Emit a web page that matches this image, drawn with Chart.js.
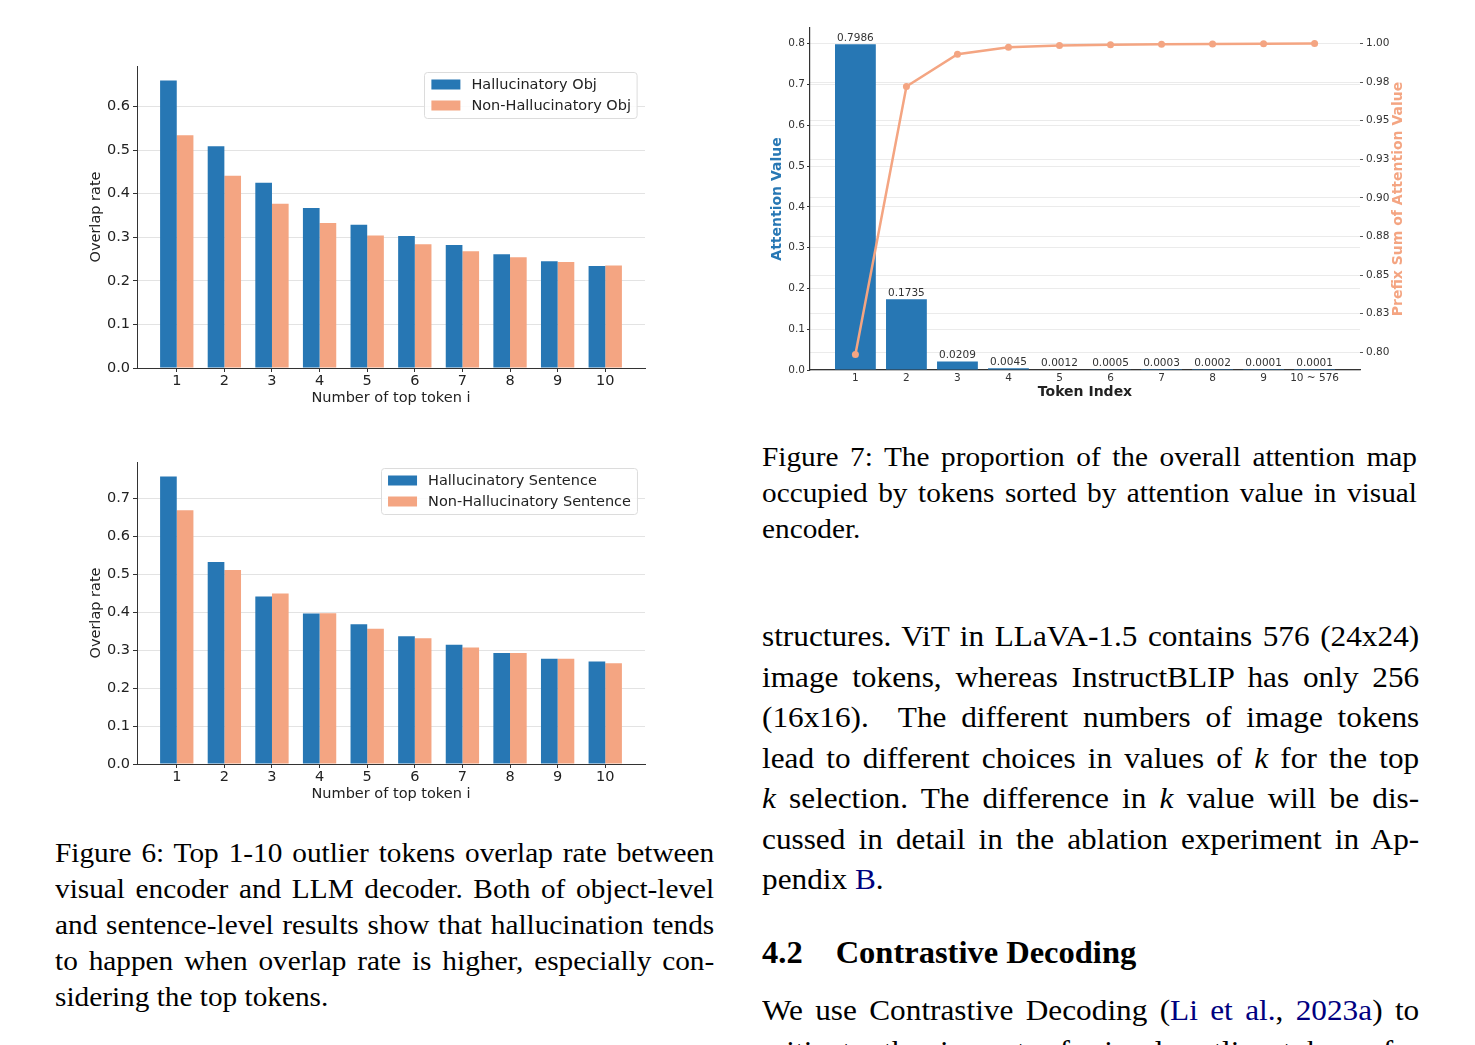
<!DOCTYPE html>
<html>
<head>
<meta charset="utf-8">
<script src="https://cdn.jsdelivr.net/npm/chart.js@4.4.1/dist/chart.umd.min.js"></script>
<style>
  html, body { margin: 0; padding: 0; background: #fff; }
  body { width: 1475px; height: 1045px; overflow: hidden; position: relative; font-family: "Liberation Serif", "Times New Roman", serif; color: #000; }
  canvas { position: absolute; }
  .para { position: absolute; transform: scaleX(1.065); transform-origin: 0 0; }
  .para div { text-align: justify; text-align-last: justify; white-space: normal; }
  .para div.last { text-align-last: left; }
  .cap { font-size: 27.5px; line-height: 36px; }
  .body { font-size: 29.5px; line-height: 40.5px; transform: scaleX(1.06); }
  .ref { color: #000080; }
  h2 { position: absolute; margin: 0; font-size: 32.5px; line-height: 40px; font-weight: bold; }
</style>
</head>
<body>
<canvas id="objChart" width="562" height="357" style="left:88px; top:50px;"></canvas>
<canvas id="sentChart" width="562" height="357" style="left:88px; top:446px;"></canvas>
<canvas id="attnChart" width="638" height="391" style="left:769px; top:10px;"></canvas>

<div class="para cap" style="left:55px; top:835px; width:619px;">
  <div>Figure 6: Top 1-10 outlier tokens overlap rate between</div>
  <div>visual encoder and LLM decoder. Both of object-level</div>
  <div>and sentence-level results show that hallucination tends</div>
  <div>to happen when overlap rate is higher, especially con-</div>
  <div class="last">sidering the top tokens.</div>
</div>

<div class="para cap" style="left:762px; top:439px; width:615px;">
  <div>Figure 7: The proportion of the overall attention map</div>
  <div>occupied by tokens sorted by attention value in visual</div>
  <div class="last">encoder.</div>
</div>

<div class="para body" style="left:762px; top:616px; width:620px;">
  <div>structures. ViT in LLaVA-1.5 contains 576 (24x24)</div>
  <div>image tokens, whereas InstructBLIP has only 256</div>
  <div>(16x16).&nbsp; The different numbers of image tokens</div>
  <div>lead to different choices in values of <i>k</i> for the top</div>
  <div><i>k</i> selection. The difference in <i>k</i> value will be dis-</div>
  <div>cussed in detail in the ablation experiment in Ap-</div>
  <div class="last">pendix <span class="ref">B</span>.</div>
</div>

<h2 style="left:762px; top:932px;"><span style="margin-right:33px">4.2</span>Contrastive Decoding</h2>

<div class="para body" style="left:762px; top:990px; width:620px;">
  <div>We use Contrastive Decoding (<span class="ref">Li et al.</span>, <span class="ref">2023a</span>) to</div>
  <div>mitigate the impact of visual outlier tokens for</div>
</div>

<script>
// Figure 6 data
const tokenRanks = ['1', '2', '3', '4', '5', '6', '7', '8', '9', '10'];
const hallucinatoryObj = [0.660, 0.509, 0.425, 0.367, 0.329, 0.303, 0.282, 0.261, 0.245, 0.234];
const nonHallucinatoryObj = [0.534, 0.441, 0.377, 0.333, 0.304, 0.284, 0.268, 0.254, 0.243, 0.235];
const hallucinatorySent = [0.757, 0.532, 0.441, 0.396, 0.368, 0.336, 0.314, 0.292, 0.277, 0.270];
const nonHallucinatorySent = [0.668, 0.511, 0.449, 0.397, 0.356, 0.331, 0.307, 0.292, 0.277, 0.265];
const objTicks = [0, 0.1, 0.2, 0.3, 0.4, 0.5, 0.6];
const sentTicks = [0, 0.1, 0.2, 0.3, 0.4, 0.5, 0.6, 0.7];

// Figure 7 data
const tokenIndex = ['1', '2', '3', '4', '5', '6', '7', '8', '9', '10 ~ 576'];
const attentionValue = [0.7986, 0.1735, 0.0209, 0.0045, 0.0012, 0.0005, 0.0003, 0.0002, 0.0001, 0.0001];
const prefixSum = [0.7986, 0.9721, 0.9930, 0.9975, 0.9987, 0.9992, 0.9995, 0.9997, 0.9998, 0.9999];
const attentionTicks = [0, 0.1, 0.2, 0.3, 0.4, 0.5, 0.6, 0.7, 0.8];
const prefixTicks = [0.8, 0.825, 0.85, 0.875, 0.9, 0.925, 0.95, 0.975, 1.0];
const prefixTickLabels = ['0.80', '0.83', '0.85', '0.88', '0.90', '0.93', '0.95', '0.98', '1.00'];

const BLUE = '#2777b4';
const SALMON = '#f4a582';

Chart.defaults.font.family = '"DejaVu Sans", sans-serif';
Chart.defaults.animation = false;

const toPoints = arr => arr.map((v, i) => ({ x: i, y: v }));

// legend box drawn inside the plot, upper right
const boxLegend = {
    id: 'boxLegend',
    afterDraw(chart) {
        const { ctx, chartArea } = chart;
        const sets = chart.data.datasets;
        ctx.save();
        ctx.font = '14.5px "DejaVu Sans"';
        const textW = Math.max(...sets.map(d => ctx.measureText(d.label).width));
        const w = 7 + 29 + 11 + textW + 6;
        const h = 46;
        const x = chartArea.right - 8 - w;
        const y = chartArea.top + 6;
        ctx.fillStyle = 'rgba(255,255,255,0.85)';
        ctx.strokeStyle = '#dcdcdc';
        ctx.lineWidth = 1;
        ctx.beginPath();
        ctx.roundRect(Math.round(x) + 0.5, Math.round(y) + 0.5, w, h, 3);
        ctx.fill();
        ctx.stroke();
        sets.forEach((d, i) => {
            const cy = y + 12.5 + i * 21;
            ctx.fillStyle = d.backgroundColor;
            ctx.fillRect(x + 7, cy - 5, 29, 10);
            ctx.fillStyle = '#222';
            ctx.textBaseline = 'middle';
            ctx.fillText(d.label, x + 47, cy + 1);
        });
        ctx.restore();
    }
};

function makeOverlapChart(id, hallLabel, hallData, nonLabel, nonData, yTicks, yMax) {
    return new Chart(document.getElementById(id), {
        type: 'bar',
        data: {
            datasets: [
                { label: hallLabel, data: toPoints(hallData), backgroundColor: BLUE },
                { label: nonLabel, data: toPoints(nonData), backgroundColor: SALMON }
            ]
        },
        options: {
            responsive: false,
            maintainAspectRatio: false,
            categoryPercentage: 0.7,
            barPercentage: 1.0,
            layout: { padding: { top: 16, right: 5, left: 0, bottom: 0 } },
            plugins: { legend: { display: false }, tooltip: { enabled: false } },
            scales: {
                x: {
                    type: 'linear',
                    min: -0.835,
                    max: 9.835,
                    offset: false,
                    afterBuildTicks: s => { s.ticks = tokenRanks.map((_, i) => ({ value: i })); },
                    afterFit: s => { s.height = 39; },
                    ticks: { callback: v => tokenRanks[v], color: '#222', font: { size: 14.5 }, padding: 1, maxRotation: 0 },
                    grid: { display: true, drawOnChartArea: false, offset: false, tickLength: 4, tickColor: '#333' },
                    border: { display: true, color: '#333', width: 1 },
                    title: { display: true, text: 'Number of top token i', color: '#222', font: { size: 14.5 }, padding: 0 }
                },
                y: {
                    min: 0,
                    max: yMax,
                    afterBuildTicks: s => { s.ticks = yTicks.map(v => ({ value: v })); },
                    afterFit: s => { s.width = 49; },
                    ticks: { callback: v => v.toFixed(1), color: '#222', font: { size: 14.5 }, padding: 3 },
                    grid: { color: '#e3e3e3', lineWidth: 1, tickLength: 4, tickColor: '#333' },
                    border: { display: true, color: '#333', width: 1 },
                    title: { display: true, text: 'Overlap rate', color: '#222', font: { size: 14.5 }, padding: 0 }
                }
            }
        },
        plugins: [boxLegend]
    });
}

makeOverlapChart('objChart', 'Hallucinatory Obj', hallucinatoryObj,
    'Non-Hallucinatory Obj', nonHallucinatoryObj, objTicks, 0.693);
makeOverlapChart('sentChart', 'Hallucinatory Sentence', hallucinatorySent,
    'Non-Hallucinatory Sentence', nonHallucinatorySent, sentTicks, 0.795);

// value labels over the attention bars
const barValueLabels = {
    id: 'barValueLabels',
    afterDatasetsDraw(chart) {
        const ctx = chart.ctx;
        const meta = chart.getDatasetMeta(0);
        ctx.save();
        ctx.font = '10.5px "DejaVu Sans"';
        ctx.fillStyle = '#333';
        ctx.textAlign = 'center';
        ctx.textBaseline = 'bottom';
        meta.data.forEach((bar, i) => {
            ctx.fillText(attentionValue[i].toFixed(4), bar.x, bar.y - 1);
        });
        ctx.restore();
    }
};

// right axis title, reading bottom to top like the left one
const rightTitle = {
    id: 'rightTitle',
    afterDraw(chart) {
        const ctx = chart.ctx;
        const s = chart.scales.y2;
        const area = chart.chartArea;
        ctx.save();
        ctx.translate(s.right - 8.4, (area.top + area.bottom) / 2);
        ctx.rotate(-Math.PI / 2);
        ctx.font = 'bold 14px "DejaVu Sans"';
        ctx.fillStyle = SALMON;
        ctx.textAlign = 'center';
        ctx.textBaseline = 'middle';
        ctx.fillText(chart.data.datasets[1].label, 0, 0);
        ctx.restore();
    }
};

new Chart(document.getElementById('attnChart'), {
    type: 'bar',
    data: {
        datasets: [
            {
                label: 'Attention Value',
                data: toPoints(attentionValue),
                yAxisID: 'y',
                backgroundColor: BLUE,
                categoryPercentage: 1.0,
                barPercentage: 0.8,
                order: 2
            },
            {
                type: 'line',
                label: 'Prefix Sum of Attention Value',
                data: toPoints(prefixSum),
                yAxisID: 'y2',
                borderColor: SALMON,
                backgroundColor: SALMON,
                borderWidth: 2.5,
                pointRadius: 3.5,
                pointBackgroundColor: SALMON,
                pointBorderWidth: 0,
                tension: 0,
                order: 1
            }
        ]
    },
    options: {
        responsive: false,
        maintainAspectRatio: false,
        layout: { padding: { top: 18, right: 0, left: 0, bottom: 0 } },
        plugins: { legend: { display: false }, tooltip: { enabled: false } },
        scales: {
            x: {
                type: 'linear',
                min: -0.89,
                max: 9.89,
                offset: false,
                afterBuildTicks: s => { s.ticks = tokenIndex.map((_, i) => ({ value: i })); },
                afterFit: s => { s.height = 31; },
                ticks: { callback: v => tokenIndex[v], color: '#333', font: { size: 10.5 }, padding: 2, maxRotation: 0 },
                grid: { display: true, drawOnChartArea: false, drawTicks: false },
                border: { display: true, color: '#333', width: 1.2 },
                title: { display: true, text: 'Token Index', color: '#222', font: { size: 14, weight: 'bold' }, padding: 0 }
            },
            y: {
                position: 'left',
                min: 0,
                max: 0.8385,
                afterBuildTicks: s => { s.ticks = attentionTicks.map(v => ({ value: v })); },
                afterFit: s => { s.width = 41; },
                ticks: { callback: v => v.toFixed(1), color: '#333', font: { size: 10.5 }, padding: 2 },
                grid: { color: '#ebebeb', lineWidth: 1, tickLength: 3, tickColor: '#333' },
                border: { display: true, color: '#333', width: 1.2 },
                title: { display: true, text: 'Attention Value', color: BLUE, font: { size: 14, weight: 'bold' }, padding: 0 }
            },
            y2: {
                position: 'right',
                min: 0.7885,
                max: 1.010,
                afterBuildTicks: s => { s.ticks = prefixTicks.map(v => ({ value: v })); },
                afterFit: s => { s.width = 47; },
                ticks: { callback: (v, i) => prefixTickLabels[i], color: '#333', font: { size: 10.5 }, padding: 3 },
                grid: { color: '#ebebeb', lineWidth: 1, tickLength: 3, tickColor: '#555' },
                border: { display: false },
                title: { display: false }
            }
        }
    },
    plugins: [barValueLabels, rightTitle]
});
</script>
</body>
</html>
